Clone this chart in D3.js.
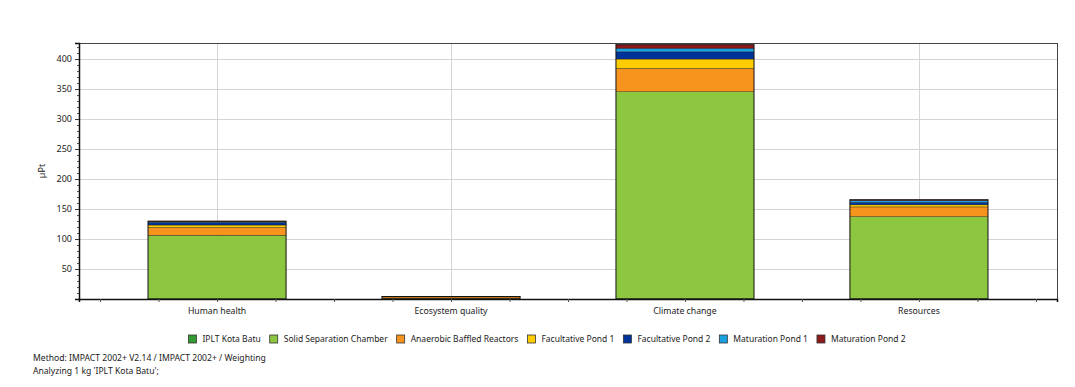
<!DOCTYPE html>
<html>
<head>
<meta charset="utf-8">
<script src="https://cdn.jsdelivr.net/npm/d3@7/dist/d3.min.js"></script>
<style>
  html, body { margin: 0; padding: 0; background: #fff; }
  svg { display: block; }
  text { font-family: "Noto Sans", "Open Sans", sans-serif; fill: #222; }
</style>
</head>
<body>
<svg id="chart" width="1075" height="387"></svg>
<script>
// Impact categories (x axis)
const categories = ["Human health", "Ecosystem quality", "Climate change", "Resources"];

// Process contributions, µPt, stacked bottom to top
const seriesNames = [
  "IPLT Kota Batu",
  "Solid Separation Chamber",
  "Anaerobic Baffled Reactors",
  "Facultative Pond 1",
  "Facultative Pond 2",
  "Maturation Pond 1",
  "Maturation Pond 2"
];
const iplt        = [0.3, 0.05, 0.5, 0.5];
const solidSep    = [106, 1.2, 345, 137];
const abr         = [13, 2.2, 39, 16];
const facPond1    = [4, 0.3, 15.5, 3.5];
const facPond2    = [4, 0.2, 12, 4];
const matPond1    = [1, 0.1, 6, 3];
const matPond2    = [1.5, 0.1, 6, 1.5];
const seriesValues = [iplt, solidSep, abr, facPond1, facPond2, matPond1, matPond2];

const seriesColors = ["#339933", "#8dc63f", "#f7941d", "#ffcc00", "#003399", "#1ba1e2", "#8b1a1a"];

const yTicks = [50, 100, 150, 200, 250, 300, 350, 400];
const yLabel = "µPt";
const footer = [
  "Method: IMPACT 2002+ V2.14 / IMPACT 2002+ / Weighting",
  "Analyzing 1 kg 'IPLT Kota Batu';"
];

const svg = d3.select("#chart");
const plot = { left: 79, right: 1057, top: 43, bottom: 299 };

const x = d3.scaleLinear().domain([0.41, 4.59]).range([plot.left, plot.right]);
const y = d3.scaleLinear().domain([0, 426.7]).range([plot.bottom, plot.top]);
const barHalf = 0.295;

// Grid lines
const grid = svg.append("g");
grid.selectAll("line.h").data(yTicks).join("line")
  .attr("x1", plot.left).attr("x2", plot.right)
  .attr("y1", d => y(d) + 0.5).attr("y2", d => y(d) + 0.5)
  .attr("stroke", "#d4d4d4").attr("stroke-width", 1);
grid.selectAll("line.v").data(categories).join("line")
  .attr("x1", (d, i) => Math.round(x(i + 1)) + 0.5).attr("x2", (d, i) => Math.round(x(i + 1)) + 0.5)
  .attr("y1", plot.top).attr("y2", plot.bottom)
  .attr("stroke", "#d4d4d4").attr("stroke-width", 1);

// Stacked bars
const rows = categories.map((c, i) => {
  const r = { cat: c, idx: i };
  seriesNames.forEach((s, k) => { r[s] = seriesValues[k][i]; });
  return r;
});
const stacked = d3.stack().keys(seriesNames)(rows);
const bx0 = d => x(d.data.idx + 1 - barHalf);
const bx1 = d => x(d.data.idx + 1 + barHalf);

const bars = svg.append("g");
stacked.forEach((layer, k) => {
  bars.append("g").selectAll("rect").data(layer).join("rect")
    .attr("x", bx0)
    .attr("width", d => bx1(d) - bx0(d))
    .attr("y", d => y(d[1]))
    .attr("height", d => Math.max(0, y(d[0]) - y(d[1])))
    .attr("fill", seriesColors[k])
    .attr("stroke", "rgba(20,20,20,0.7)")
    .attr("stroke-width", 0.5);
});
// Outline of each whole bar
const topLayer = stacked[stacked.length - 1];
bars.append("g").selectAll("rect").data(topLayer).join("rect")
  .attr("x", bx0).attr("width", d => bx1(d) - bx0(d))
  .attr("y", d => y(d[1])).attr("height", d => y(0) - y(d[1]))
  .attr("fill", "none").attr("stroke", "rgba(20,20,20,0.8)").attr("stroke-width", 1);

// Plot frame
svg.append("rect")
  .attr("x", plot.left + 0.5).attr("y", plot.top + 0.5)
  .attr("width", plot.right - plot.left).attr("height", plot.bottom - plot.top)
  .attr("fill", "none").attr("stroke", "#444").attr("stroke-width", 1);

// Y axis
const yAxis = d3.axisLeft(y).tickValues(yTicks).tickSize(4).tickPadding(3).tickFormat(d3.format("d"));
const yg = svg.append("g").attr("transform", `translate(${plot.left},0)`).call(yAxis);
yg.select(".domain").attr("stroke", "#111").attr("stroke-width", 1.5);
yg.selectAll(".tick text").attr("font-size", 9).attr("fill", "#222")
  .style("font-family", "'Noto Sans', sans-serif");
yg.selectAll(".tick line").attr("stroke", "#333");
const minorY = d3.range(10, 426, 10).filter(v => v % 50 !== 0);
svg.append("g").selectAll("line").data(minorY).join("line")
  .attr("x1", plot.left - 2).attr("x2", plot.left)
  .attr("y1", d => y(d) + 0.5).attr("y2", d => y(d) + 0.5)
  .attr("stroke", "#555");

svg.append("text")
  .attr("transform", `translate(45,${(plot.top + plot.bottom) / 2}) rotate(-90)`)
  .attr("text-anchor", "middle").attr("font-size", 9).text(yLabel);

// X axis: category labels and quarter ticks
const xAxis = d3.axisBottom(x)
  .tickValues(d3.range(0.5, 4.51, 0.25))
  .tickSize(3).tickFormat("");
const xg = svg.append("g").attr("transform", `translate(0,${plot.bottom})`).call(xAxis);
xg.select(".domain").attr("stroke", "#111").attr("stroke-width", 1.5);
xg.selectAll(".tick line").attr("stroke", "#555");
svg.append("g").selectAll("text").data(categories).join("text")
  .attr("x", (d, i) => x(i + 1)).attr("y", 314)
  .attr("text-anchor", "middle").attr("font-size", 8.7).text(d => d);

// Legend
const legend = svg.append("g");
const items = legend.selectAll("g").data(seriesNames).join("g");
items.append("rect")
  .attr("width", 8).attr("height", 8).attr("y", -7)
  .attr("fill", (d, i) => seriesColors[i])
  .attr("stroke", "#333").attr("stroke-width", 0.8);
items.append("text").attr("x", 14).attr("y", 0).attr("font-size", 8.5).text(d => d);
let cx = 0;
const widths = [];
items.each(function () { widths.push(this.querySelector("text").getComputedTextLength()); });
const gap = 9;
const positions = widths.map(w => { const p = cx; cx += 14 + w + gap; return p; });
const total = cx - gap;
const startX = 547 - total / 2;
items.attr("transform", (d, i) => `translate(${startX + positions[i]},342)`);

// Footer
svg.append("g").selectAll("text").data(footer).join("text")
  .attr("x", 33).attr("y", (d, i) => 361 + i * 13)
  .attr("font-size", 8.6).text(d => d);
</script>
</body>
</html>
